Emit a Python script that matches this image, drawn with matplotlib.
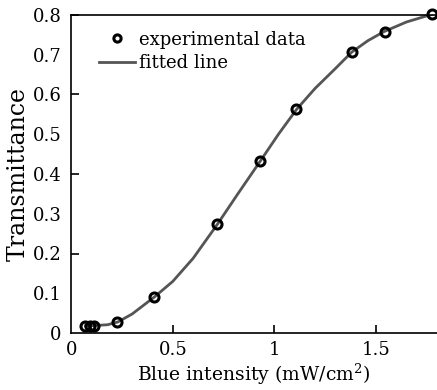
import matplotlib
matplotlib.use("Agg")
import matplotlib.pyplot as plt

# experimental points
exp_x = [0.069, 0.093, 0.113, 0.226, 0.408, 0.719, 0.931, 1.106, 1.381, 1.543, 1.773]
exp_y = [0.018, 0.019, 0.019, 0.027, 0.091, 0.274, 0.432, 0.563, 0.706, 0.758, 0.802]

# fitted curve
fit_x = [0.07, 0.12, 0.18, 0.23, 0.30, 0.41, 0.50, 0.60, 0.72, 0.82, 0.93,
         1.02, 1.11, 1.20, 1.30, 1.38, 1.46, 1.54, 1.65, 1.78]
fit_y = [0.018, 0.019, 0.021, 0.028, 0.048, 0.091, 0.130, 0.188, 0.274, 0.350,
         0.432, 0.500, 0.563, 0.615, 0.665, 0.706, 0.735, 0.758, 0.782, 0.802]

x_ticks = [0, 0.5, 1, 1.5]
x_labels = ["0", "0.5", "1", "1.5"]
y_ticks = [0, 0.1, 0.2, 0.3, 0.4, 0.5, 0.6, 0.7, 0.8]
y_labels = ["0", "0.1", "0.2", "0.3", "0.4", "0.5", "0.6", "0.7", "0.8"]

plt.rcParams["font.family"] = ["DejaVu Serif"]
plt.rcParams["mathtext.fontset"] = "dejavuserif"
plt.rcParams["font.size"] = 13

fig = plt.figure(figsize=(4.37, 3.9), dpi=100)
ax = fig.add_axes([0.163, 0.146, 0.837, 0.816])

ax.plot(fit_x, fit_y, color="#555555", lw=2, label="fitted line", zorder=2)
ax.plot(exp_x, exp_y, "o", ms=6.5, mfc="none", mec="black", mew=2.2,
        label="experimental data", zorder=3, clip_on=False)

ax.set_xlim(0, 1.8)
ax.set_ylim(0, 0.8)
ax.set_xticks(x_ticks)
ax.set_xticklabels(x_labels)
ax.set_yticks(y_ticks)
ax.set_yticklabels(y_labels)
ax.tick_params(direction="in", length=6, width=1.2, labelsize=13)
ax.tick_params(axis="y", pad=7)
ax.tick_params(axis="x", pad=6)
# only every second y tick has a mark
for i, t in enumerate(ax.yaxis.get_major_ticks()):
    if i % 2 == 1 or i == 0:
        t.tick1line.set_visible(False)
ax.xaxis.get_major_ticks()[0].tick1line.set_visible(False)

ax.spines["right"].set_visible(False)
for s in ["left", "bottom", "top"]:
    ax.spines[s].set_linewidth(1.2)

ax.set_xlabel("Blue intensity (mW/cm$^2$)", fontsize=13.5, labelpad=2)
ax.set_ylabel("Transmittance", fontsize=17, labelpad=2)

handles, labels = ax.get_legend_handles_labels()
ax.legend(handles[::-1], labels[::-1], loc="upper left", bbox_to_anchor=(0.04, 0.99),
          frameon=False, handlelength=2.0, handletextpad=0.25, labelspacing=0.3,
          borderaxespad=0.3, fontsize=13, markerscale=0.8)

fig.savefig("out.png", dpi=100)
